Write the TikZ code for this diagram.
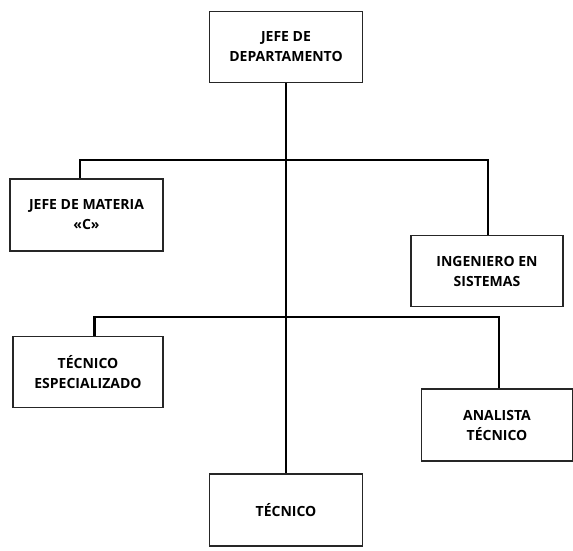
\documentclass[tikz,border=0pt]{standalone}
\usepackage{fontspec}
\setmainfont{Open Sans}
\begin{document}
\begin{tikzpicture}[x=1pt,y=-1pt,
  box/.style={draw=black!85,line width=1.3pt,fill=white,inner sep=0pt,align=center,font=\fontsize{14}{20}\selectfont\bfseries},
  link/.style={line width=2.6pt,black}]
\useasboundingbox (0,0) rectangle (573,550);
\node[box,minimum width=153,minimum height=71] (jd) at (286,47) {JEFE DE\\DEPARTAMENTO};
\node[box,minimum width=153,minimum height=72] (jm) at (86.5,215) {JEFE DE MATERIA\\«C»};
\node[box,minimum width=152,minimum height=71] (ing) at (487,271) {INGENIERO EN\\SISTEMAS};
\node[box,minimum width=150,minimum height=71] (te) at (88,372) {TÉCNICO\\ESPECIALIZADO};
\node[box,minimum width=151,minimum height=72] (an) at (497,425) {ANALISTA\\TÉCNICO};
\node[box,minimum width=153,minimum height=72] (tc) at (286,510) {TÉCNICO};
\coordinate (h1) at (286,160);
\coordinate (h2) at (286,317);
\draw[link] (jd.south) -- (tc.north);
\draw[link] (jm.north -| 80,0) |- (h1) -| (ing.north -| 488,0);
\draw[link] (te.north -| 94.5,0) |- (h2) -| (an.north -| 499,0);
\end{tikzpicture}
\end{document}
